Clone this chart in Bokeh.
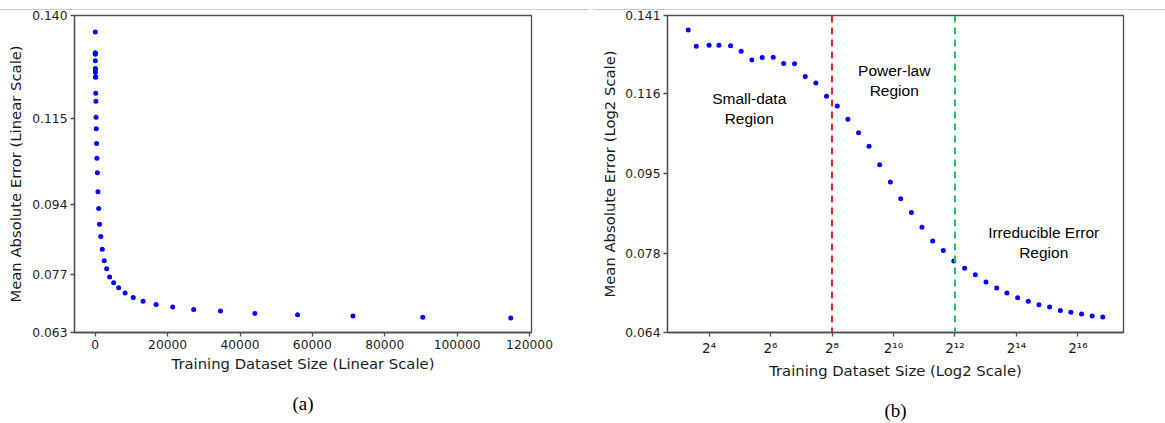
import math
from bokeh.plotting import figure
from bokeh.layouts import row, column, Spacer
from bokeh.models import (ColumnDataSource, FixedTicker, PrintfTickFormatter,
                          Range1d, Span, Title, Div)
from bokeh.core.properties import value
from bokeh.embed import file_html
from bokeh.resources import INLINE

# ---------------- data ----------------
train_size = [10, 12, 16, 20, 26, 33, 42, 53, 68, 86,
              110, 140, 178, 226, 288, 366, 466, 590, 750, 955,
              1205, 1535, 1945, 2480, 3150, 3990, 5090, 6480, 8250, 10500,
              13220, 16830, 21400, 27200, 34600, 44100, 55900, 71200, 90500, 114800]
mae = [0.1360, 0.1306, 0.1309, 0.1309, 0.1308, 0.1290, 0.1262, 0.1270, 0.1271, 0.1251,
       0.1250, 0.1211, 0.1192, 0.1153, 0.1125, 0.1089, 0.1053, 0.1018, 0.0972, 0.0931,
       0.0893, 0.0863, 0.0832, 0.0804, 0.0785, 0.0765, 0.0751, 0.0739, 0.0726, 0.0715,
       0.0706, 0.0698, 0.0692, 0.0686, 0.0682, 0.0676, 0.0673, 0.0670, 0.0667, 0.0665]

lin_x_ticks = [0, 20000, 40000, 60000, 80000, 100000, 120000]
lin_y_ticks = [0.063, 0.077, 0.094, 0.115, 0.140]
log_y_ticks = [0.064, 0.078, 0.095, 0.116, 0.141]
log_x_ticks = [16, 64, 256, 1024, 4096, 16384, 65536]
log_x_labels = ["2\u2074", "2\u2076", "2\u2078", "2\u00b9\u2070", "2\u00b9\u00b2", "2\u00b9\u2074", "2\u00b9\u2076"]

region_text = ["Small-data\nRegion", "Power-law\nRegion", "Irreducible Error\nRegion"]
region_x = [39.6, 1041, 30300]
region_y = [0.1119, 0.1200, 0.0801]
boundary_small = 256
boundary_irreducible = 4096

src = ColumnDataSource(dict(x=train_size, y=mae))

FRAME_C = "#4d4d4d"
TEXT_C = "#1a1a1a"

def style(p, ylab_standoff):
    p.outline_line_color = FRAME_C
    p.outline_line_width = 1.3
    p.grid.visible = False
    p.background_fill_color = "white"
    p.border_fill_color = "white"
    for ax in p.axis:
        ax.axis_line_color = FRAME_C
        ax.axis_line_width = 1.3
        ax.major_tick_line_color = FRAME_C
        ax.major_tick_line_width = 1.3
        ax.major_tick_out = 4
        ax.major_tick_in = 0
        ax.minor_tick_line_color = None
        ax.major_label_text_font = "DejaVu Sans"
        ax.major_label_text_font_size = "12.3px"
        ax.major_label_text_color = TEXT_C
        ax.major_label_standoff = 3
        ax.axis_label_text_font = "DejaVu Sans"
        ax.axis_label_text_font_size = "14.8px"
        ax.axis_label_text_font_style = "normal"
        ax.axis_label_text_color = TEXT_C
    p.xaxis.axis_label_standoff = 3
    p.yaxis.axis_label_standoff = ylab_standoff

def add_caption(p, txt):
    p.add_layout(Title(text=txt, align="center", text_font="Liberation Serif",
                       text_font_size="19px", text_font_style="normal",
                       text_color="black", offset=-8, standoff=33), "below")

TOP = 5          # figures start below the 10px header strip
BOTTOM = 81

# ---------------- left: linear ----------------
lo, hi = min(train_size), max(train_size)
pad = 0.05 * (hi - lo)
p1 = figure(frame_width=457, frame_height=317, output_backend="svg", toolbar_location=None,
            x_range=Range1d(lo - pad, hi + pad), y_range=Range1d(lin_y_ticks[0], lin_y_ticks[-1]),
            min_border_left=74, min_border_right=60, min_border_top=TOP, min_border_bottom=BOTTOM)
p1.scatter("x", "y", source=src, size=5, fill_color="blue", line_color=None)
p1.xaxis.ticker = FixedTicker(ticks=lin_x_ticks)
p1.xaxis.formatter = PrintfTickFormatter(format="%d")
p1.yaxis.ticker = FixedTicker(ticks=lin_y_ticks)
p1.yaxis.formatter = PrintfTickFormatter(format="%.3f")
p1.xaxis.axis_label = "Training Dataset Size (Linear Scale)"
p1.yaxis.axis_label = "Mean Absolute Error (Linear Scale)"
style(p1, 5)
add_caption(p1, "(a)")

# ---------------- right: log2 ----------------
l2lo, l2hi = math.log2(lo), math.log2(hi)
lpad = 0.05 * (l2hi - l2lo)
p2 = figure(frame_width=456, frame_height=317, output_backend="svg", toolbar_location=None,
            x_axis_type="log", y_axis_type="log",
            x_range=Range1d(2 ** (l2lo - lpad), 2 ** (l2hi + lpad)),
            y_range=Range1d(log_y_ticks[0], log_y_ticks[-1]),
            min_border_left=76, min_border_right=34, min_border_top=TOP, min_border_bottom=BOTTOM)
p2.scatter("x", "y", source=src, size=5, fill_color="blue", line_color=None)
p2.xaxis.ticker = FixedTicker(ticks=log_x_ticks)
p2.xaxis.major_label_overrides = {t: s for t, s in zip(log_x_ticks, log_x_labels)}
p2.yaxis.ticker = FixedTicker(ticks=log_y_ticks)
p2.yaxis.formatter = PrintfTickFormatter(format="%.3f")
p2.xaxis.axis_label = "Training Dataset Size (Log2 Scale)"
p2.yaxis.axis_label = "Mean Absolute Error (Log2 Scale)"
style(p2, 4)
p2.xaxis.major_label_text_font_size = "13.5px"
p2.add_layout(Span(location=boundary_small, dimension="height", line_color="#d62728",
                   line_width=2, line_dash="7 5"))
p2.add_layout(Span(location=boundary_irreducible, dimension="height", line_color="#22c060",
                   line_width=2, line_dash="7 5"))
p2.text(x=region_x, y=region_y, text=region_text, text_font=value("Liberation Sans"),
        text_font_size="15.5px", text_align="center", text_baseline="middle",
        text_line_height=1.18, text_color="black")
add_caption(p2, "(b)")

rule_l = Div(width=589, height=1, margin=0, styles={"background-color": "#cccccc"})
rule_r = Div(width=572, height=1, margin=0, styles={"background-color": "#cccccc"})
header = column(Spacer(width=1161, height=9, margin=0),
                row(rule_l, Spacer(width=4, height=1, margin=0), rule_r, spacing=0),
                spacing=0)
layout = column(header, row(p1, p2, spacing=0), spacing=0)

open("out.html", "w").write(file_html(layout, INLINE))
